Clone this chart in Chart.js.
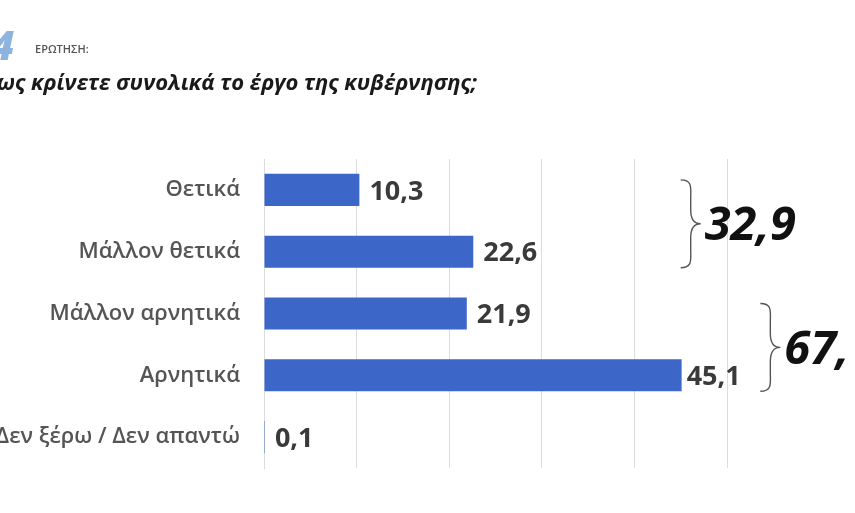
<!DOCTYPE html>
<html lang="el">
<head>
    <meta charset="UTF-8">
    <title>Πώς κρίνετε συνολικά το έργο της κυβέρνησης;</title>
    <script src="https://cdn.jsdelivr.net/npm/chart.js"></script>
    <style>
        html, body { margin: 0; padding: 0; background: #fff; overflow: hidden; }
        .wrap { position: relative; width: 855px; height: 513px; }
        .logo { position: absolute; left: -9px; top: 17px; font: italic 800 40px "Open Sans", sans-serif; color: #8db4df; }
        .q { position: absolute; left: 35px; top: 41px; font: 600 11px "Open Sans", sans-serif; color: #555; }
        .title { position: absolute; left: -3px; top: 66px; font: italic 700 22px "Open Sans", sans-serif; color: #1a1a1a; white-space: nowrap; }
        canvas { position: absolute; left: 0; top: 0; }
    </style>
</head>
<body>
<div class="wrap">
    <canvas id="chart" width="855" height="513"></canvas>
    <div class="logo">4</div>
    <div class="q">ΕΡΩΤΗΣΗ:</div>
    <div class="title">ως κρίνετε συνολικά το έργο της κυβέρνησης;</div>
</div>

<script>
    // data
    const categories = ['Θετικά', 'Μάλλον θετικά', 'Μάλλον αρνητικά', 'Αρνητικά', 'Δεν ξέρω / Δεν απαντώ'];
    const values = [10.3, 22.6, 21.9, 45.1, 0.1];
    const groupTotals = ['32,9', '67,'];
    const groupRanges = [[0, 1], [2, 3]];   // category index ranges for the braces
    const groupBraceX = [45.0, 53.6];        // x-axis value where each brace starts

    const fmt = v => v.toFixed(1).replace('.', ',');

    // value labels right of each bar
    const valueLabels = {
        id: 'valueLabels',
        afterDatasetsDraw(chart) {
            const ctx = chart.ctx;
            const meta = chart.getDatasetMeta(0);
            ctx.save();
            ctx.fillStyle = '#3a3a3a';
            ctx.font = '700 27px "Open Sans", sans-serif';
            ctx.textBaseline = 'middle';
            meta.data.forEach((bar, i) => {
                const off = i === 3 ? 5 : 10;
                ctx.fillText(fmt(values[i]), bar.x + off, bar.y + 2);
            });
            ctx.restore();
        }
    };

    // curly braces + group totals
    const braces = {
        id: 'braces',
        afterDraw(chart) {
            const ctx = chart.ctx;
            const x = chart.scales.x, y = chart.scales.y;
            ctx.save();
            groupRanges.forEach((r, g) => {
                const top = y.getPixelForValue(r[0]) - 10;
                const bot = y.getPixelForValue(r[1]) + 16;
                const mid = (top + bot) / 2;
                const x0 = x.getPixelForValue(groupBraceX[g]);
                const xs = x0 + 10, xt = x0 + 20;
                ctx.strokeStyle = '#555';
                ctx.lineWidth = 1.4;
                ctx.beginPath();
                ctx.moveTo(x0, top);
                ctx.bezierCurveTo(xs + 2, top, xs, top + 8, xs, top + 18);
                ctx.lineTo(xs, mid - 14);
                ctx.bezierCurveTo(xs, mid - 3, xs + 4, mid, xt, mid);
                ctx.bezierCurveTo(xs + 4, mid, xs, mid + 3, xs, mid + 14);
                ctx.lineTo(xs, bot - 18);
                ctx.bezierCurveTo(xs, bot - 8, xs + 2, bot, x0, bot);
                ctx.stroke();

                ctx.fillStyle = '#111';
                ctx.font = 'italic 700 47px "Open Sans", sans-serif';
                ctx.textBaseline = 'middle';
                ctx.fillText(groupTotals[g], xt + 4, mid + 3);
            });
            ctx.restore();
        }
    };

    const ctx = document.getElementById('chart').getContext('2d');

    new Chart(ctx, {
        type: 'bar',
        data: {
            labels: categories,
            datasets: [{
                data: values,
                backgroundColor: (c) => {
                    const bar = c.element;
                    if (!bar || bar.y === undefined) return '#3d66c9';
                    const h = bar.height || 32;
                    const g = c.chart.ctx.createLinearGradient(0, bar.y - h / 2, 0, bar.y + h / 2);
                    g.addColorStop(0, '#4a74d2');
                    g.addColorStop(0.5, '#3c63c6');
                    g.addColorStop(1, '#2f55b8');
                    return g;
                },
                borderWidth: 0,
                barPercentage: 0.52,
                categoryPercentage: 1
            }]
        },
        options: {
            indexAxis: 'y',
            responsive: false,
            animation: false,
            layout: { padding: { left: 0, right: 128, top: 159, bottom: 45 } },
            plugins: { legend: { display: false }, tooltip: { enabled: false } },
            scales: {
                x: {
                    min: 0, max: 50,
                    ticks: { display: false, stepSize: 10 },
                    grid: { color: '#dcdcdc', lineWidth: 1, drawTicks: false },
                    border: { display: false }
                },
                y: {
                    afterFit: (s) => { s.width = 264; },
                    ticks: {
                        color: '#555555',
                        padding: 16,
                        font: { family: 'Open Sans', size: 22, weight: '600' }
                    },
                    grid: { display: false },
                    border: { display: true, color: '#dcdcdc' }
                }
            }
        },
        plugins: [valueLabels, braces]
    });
</script>
</body>
</html>
